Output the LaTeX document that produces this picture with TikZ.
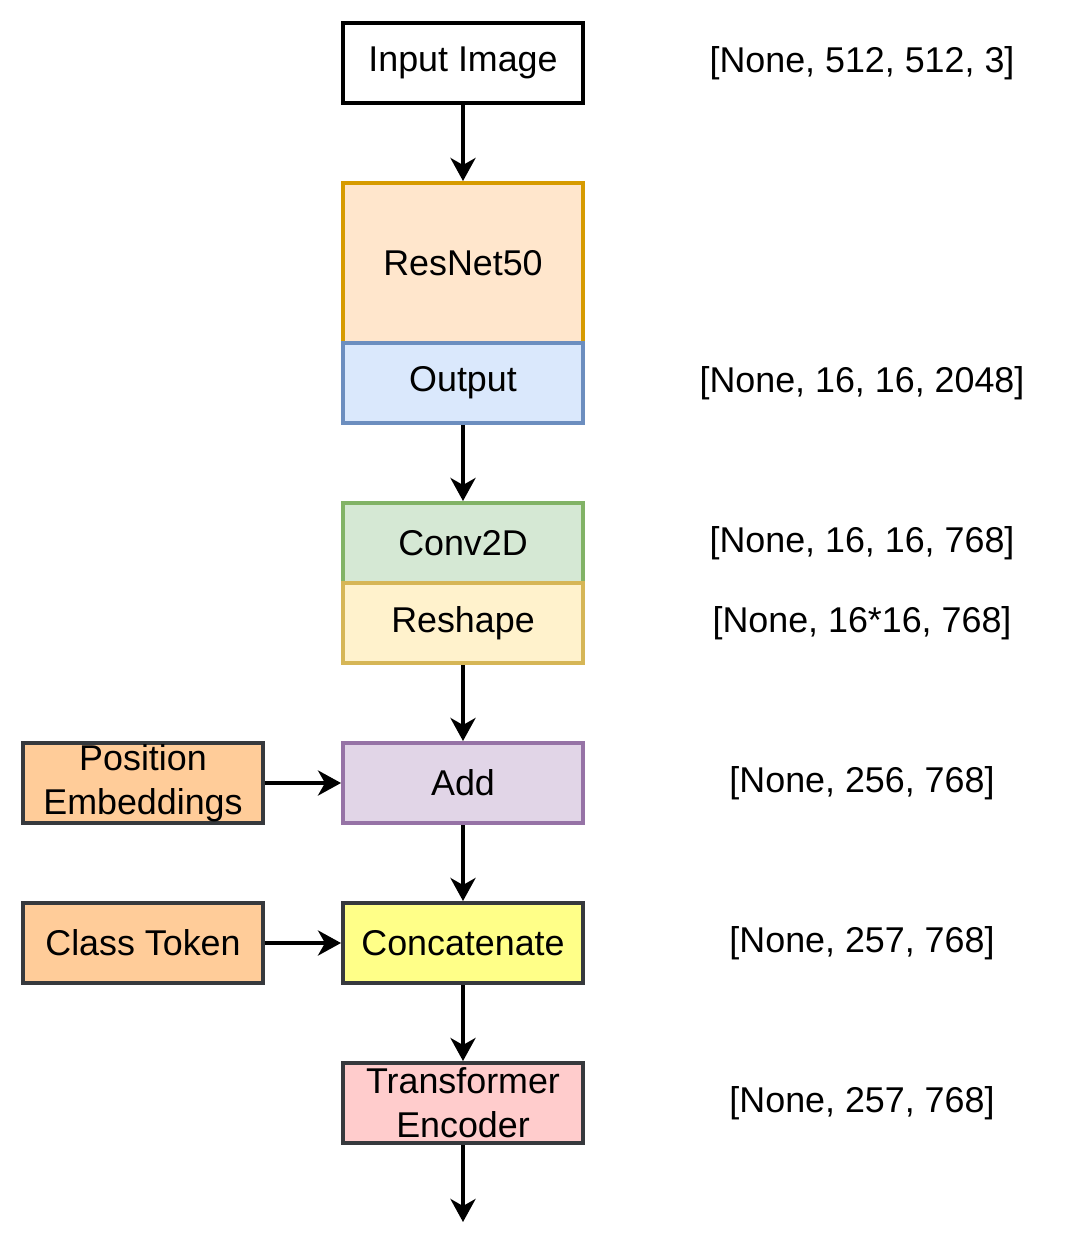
\documentclass[tikz,border=0pt]{standalone}
\usepackage{fontspec}
\setmainfont{Liberation Sans}
\usepackage{xcolor}
\usetikzlibrary{arrows.meta}
\definecolor{resfill}{HTML}{FFE6CC}
\definecolor{resline}{HTML}{D79B00}
\definecolor{outfill}{HTML}{DAE8FC}
\definecolor{outline}{HTML}{6C8EBF}
\definecolor{convfill}{HTML}{D5E8D4}
\definecolor{convline}{HTML}{82B366}
\definecolor{reshfill}{HTML}{FFF2CC}
\definecolor{reshline}{HTML}{D6B656}
\definecolor{addfill}{HTML}{E1D5E7}
\definecolor{addline}{HTML}{9673A6}
\definecolor{catfill}{HTML}{FFFF88}
\definecolor{darkline}{HTML}{36393D}
\definecolor{encfill}{HTML}{FFCCCC}
\definecolor{tokfill}{HTML}{FFCC99}
\begin{document}
\begin{tikzpicture}[x = 0.02cm, y = -0.02cm, every text node part/.style={align=center}]
			\tikzstyle{layer} = [draw, rectangle, line width = 0.08cm, minimum width = 4.8cm, minimum height = 1.6cm, inner sep = 0pt, font = \fontsize{20.4}{25}\selectfont]
			\tikzstyle{dims} = [font = \fontsize{20.4}{25}\selectfont]
			\tikzstyle{flow} = [draw, line width = 0.08cm, -{Stealth[length = 0.46cm, width = 0.5cm, inset = 0.14cm]}]
			\useasboundingbox (0, 0) rectangle (1084, 1260);

			\path (463, 63) node[layer, fill = white] (input) {Input Image};
			\path (463, 263) node[layer, fill = resfill, draw = resline, minimum height = 3.2cm] (resnet) {ResNet50};
			\path (463, 383) node[layer, fill = outfill, draw = outline] (output) {Output};
			\path (463, 543) node[layer, fill = convfill, draw = convline] (conv) {Conv2D};
			\path (463, 623) node[layer, fill = reshfill, draw = reshline] (reshape) {Reshape};
			\path (463, 783) node[layer, fill = addfill, draw = addline] (add) {Add};
			\path (463, 943) node[layer, fill = catfill, draw = darkline] (concat) {Concatenate};
			\path (463, 1103) node[layer, fill = encfill, draw = darkline] (encoder) {Transformer\\Encoder};
			\path (143, 783) node[layer, fill = tokfill, draw = darkline] (posemb) {Position\\Embeddings};
			\path (143, 943) node[layer, fill = tokfill, draw = darkline] (clstok) {Class Token};
			\coordinate (result) at (463, 1222);

			\path (862, 63) node[dims] (input-dims) {[None, 512, 512, 3]};
			\path (862, 383) node[dims] (output-dims) {[None, 16, 16, 2048]};
			\path (862, 543) node[dims] (conv-dims) {[None, 16, 16, 768]};
			\path (862, 623) node[dims] (reshape-dims) {[None, 16*16, 768]};
			\path (862, 783) node[dims] (add-dims) {[None, 256, 768]};
			\path (862, 943) node[dims] (concat-dims) {[None, 257, 768]};
			\path (862, 1103) node[dims] (encoder-dims) {[None, 257, 768]};

			\path[flow] (input) -- (resnet);
			\path[flow] (output) -- (conv);
			\path[flow] (reshape) -- (add);
			\path[flow] (add) -- (concat);
			\path[flow] (concat) -- (encoder);
			\path[flow] (encoder) -- (result);
			\path[flow] (posemb) -- (add);
			\path[flow] (clstok) -- (concat);
		\end{tikzpicture}
\end{document}
